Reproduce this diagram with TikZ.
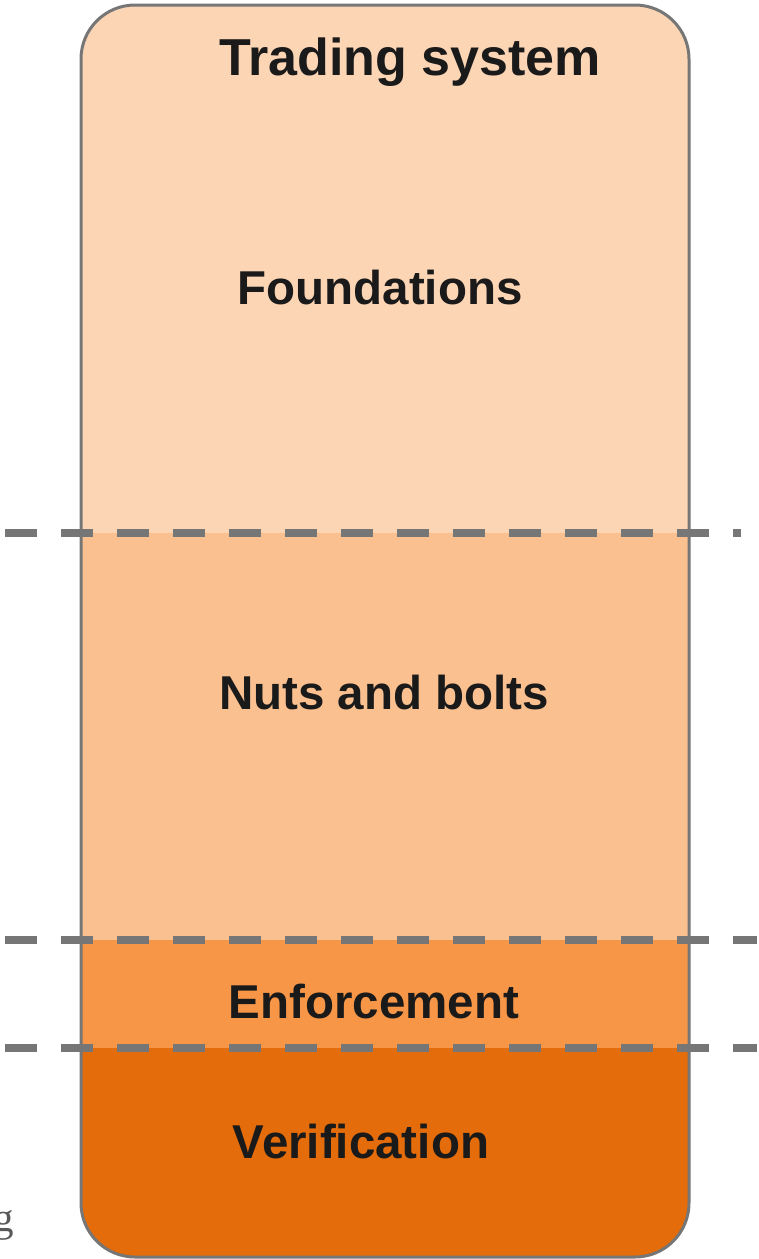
\documentclass[tikz,border=0pt]{standalone}
\usepackage{fontspec}
\setmainfont{Liberation Sans}
\newfontfamily\serifg{Liberation Serif}
\definecolor{cFound}{HTML}{FCD5B5}
\definecolor{cNuts}{HTML}{FAC090}
\definecolor{cEnf}{HTML}{F79646}
\definecolor{cVer}{HTML}{E46C0A}
\definecolor{cLine}{HTML}{767676}
\definecolor{cText}{HTML}{1A1A1A}
\tikzset{
  label text/.style={font=\fontsize{47.5}{56}\selectfont\bfseries, text=cText, inner sep=0pt, anchor=base},
  title text/.style={font=\fontsize{52}{60}\selectfont\bfseries, text=cText, inner sep=0pt, anchor=base},
  sep line/.style={draw=cLine, line width=8pt, dash pattern=on 32pt off 24pt},
  outer box/.style={draw=cLine, line width=3pt, rounded corners=54pt},
}
\begin{document}
\begin{tikzpicture}[x=1pt,y=-1pt]
\useasboundingbox (0,0) rectangle (759,1259);
% bands clipped by the rounded outer shape
\begin{scope}
  \clip[rounded corners=54pt] (81,5) rectangle (689,1257);
  \fill[cFound] (81,5) rectangle (689,533);
  \fill[cNuts] (81,533) rectangle (689,940);
  \fill[cEnf] (81,940) rectangle (689,1048);
  \fill[cVer] (81,1048) rectangle (689,1257);
\end{scope}
\draw[outer box] (81,5) rectangle (689,1257);
% separators
\coordinate (l1a) at (5,533);  \coordinate (l1b) at (741,533);
\coordinate (l2a) at (5,940);  \coordinate (l2b) at (757,940);
\coordinate (l3a) at (5,1048); \coordinate (l3b) at (757,1048);
\draw[sep line] (l1a) -- (l1b);
\draw[sep line] (l2a) -- (l2b);
\draw[sep line] (l3a) -- (l3b);
% labels
\node[title text] (title) at (410,75) {Trading system};
\node[label text] (found) at (380,304) {Foundations};
\node[label text] (nuts) at (384,709) {Nuts and bolts};
\node[label text] (enf) at (374,1018) {Enforcement};
\node[label text] (ver) at (361,1158) {Verification};
\node[font=\fontsize{41}{48}\selectfont\serifg, text=black!65, inner sep=0pt, anchor=base east] (g) at (14,1231) {g};
\end{tikzpicture}
\end{document}
